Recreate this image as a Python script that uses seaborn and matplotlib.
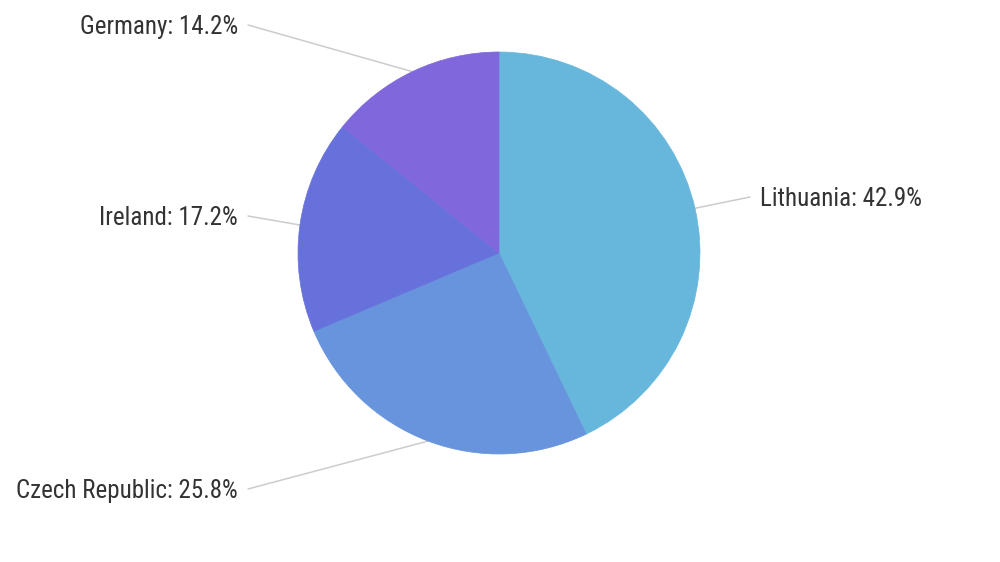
import numpy as np
import seaborn as sns
import matplotlib
matplotlib.use("Agg")
import matplotlib.pyplot as plt

# Data.
countries = ["Lithuania", "Czech Republic", "Ireland", "Germany"]
shares = [42.9, 25.8, 17.2, 14.2]
colors = ["#67b7dc", "#6794dc", "#6771dc", "#8067dc"]

# Layout in pixel units (y measured from the bottom).
W, H = 1000, 562
cx, cy, r = 499, H - 253, 201
label_pos = {"Lithuania": (760, H - 199, "left"),
             "Czech Republic": (238, H - 491, "right"),
             "Ireland": (238, H - 218, "right"),
             "Germany": (238, H - 27, "right")}

sns.set_theme(style="white")
plt.rcParams["font.family"] = ["Roboto Condensed", "Liberation Sans Narrow",
                               "Roboto", "DejaVu Sans"]

fig = plt.figure(figsize=(W / 100, H / 100), dpi=100)
ax = fig.add_axes([0, 0, 1, 1])
ax.axis("off")

wedges, _ = ax.pie(shares, colors=colors, startangle=90, counterclock=False,
                   center=(cx, cy), radius=r)
for w, c in zip(wedges, colors):
    w.set_edgecolor(c)
    w.set_linewidth(0.5)
ax.set_xlim(0, W)
ax.set_ylim(0, H)
ax.set_aspect("equal")

total = sum(shares)
cum = 0
for name, val in zip(countries, shares):
    mid = (cum + val / 2) / total * 2 * np.pi
    cum += val
    # point on the rim at the middle of the slice (clockwise from top)
    px = cx + r * np.sin(mid)
    py = cy + r * np.cos(mid)
    lx, ly, ha = label_pos[name]
    ex = lx + 10 if ha == "right" else lx - 10
    ax.plot([px, ex], [py, ly + 2], color="#cccccc", lw=1.1, zorder=0)
    ax.text(lx, ly, "{}: {:.1f}%".format(name, val), ha=ha, va="center",
            fontsize=18, color="#333333")

fig.savefig("out.png", dpi=100)
plt.close()
